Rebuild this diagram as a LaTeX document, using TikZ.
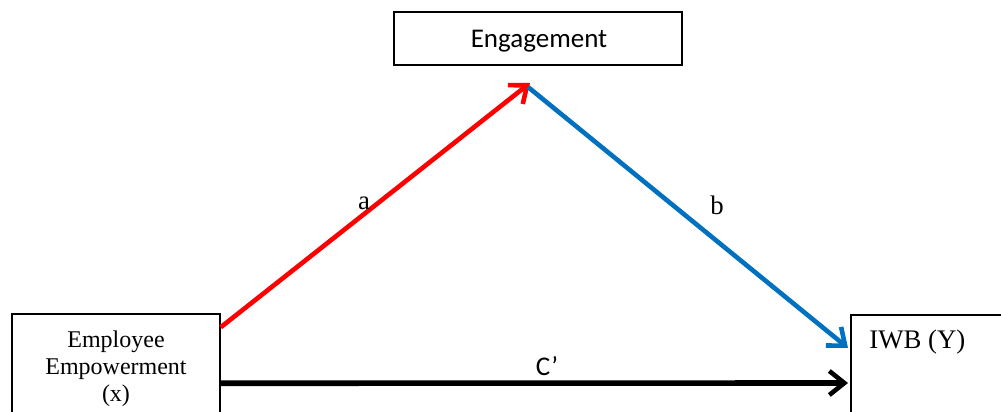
\documentclass[tikz,border=0pt]{standalone}
\usepackage{fontspec}
\setmainfont{Liberation Serif}
\newfontfamily\calfont{Carlito}
\usetikzlibrary{arrows.meta,calc}
\definecolor{myblue}{RGB}{0,112,192}
\begin{document}
\begin{tikzpicture}[x=0.5pt,y=-0.5pt,
  box/.style={draw=black,line width=0.75pt,fill=white,inner sep=0pt},
  arr/.style={line width=2.3pt,-{Straight Barb[length=7.5pt,width=12pt,line width=2.3pt]}},
  lbl/.style={inner sep=0pt,font=\fontsize{13.4}{15}\selectfont}]
\useasboundingbox (0,0) rectangle (1001,412);
\clip (0,0) rectangle (1001,412);
\node[box,minimum width=288*0.5pt,minimum height=53*0.5pt] (eng) at (538,38.5) {};
\node[inner sep=0pt,font=\calfont\fontsize{13.5}{15}\selectfont] (engtext) at (539,41) {Engagement};
\node[box,minimum width=208*0.5pt,minimum height=110*0.5pt,align=center,font=\fontsize{12}{13.4}\selectfont] (emp) at (116,369) {Employee\\Empowerment\\(x)};
\node[box,minimum width=220*0.5pt,minimum height=150*0.5pt,anchor=north west] (iwb) at (850,314) {};
\node[lbl,anchor=west] (iwbtext) at (869,342) {IWB (Y)};
\coordinate (apex) at (530,83);
\draw[arr,red] ($(emp.north east)+(0,14)$) -- (apex);
\draw[arr,myblue] ($(apex)+(-2,4)$) -- ($(iwb.north west)+(-2,34)$);
\draw[arr,black,line width=2.8pt] ($(emp.north east)+(0,70)$) -- ($(iwb.north west)+(-2,69)$);
\node[lbl] (la) at (364,203) {a};
\node[lbl] (lb) at (717,205) {b};
\node[lbl,font=\calfont\fontsize{13.5}{15}\selectfont] (lc) at (547,366) {C’};
\end{tikzpicture}
\end{document}
